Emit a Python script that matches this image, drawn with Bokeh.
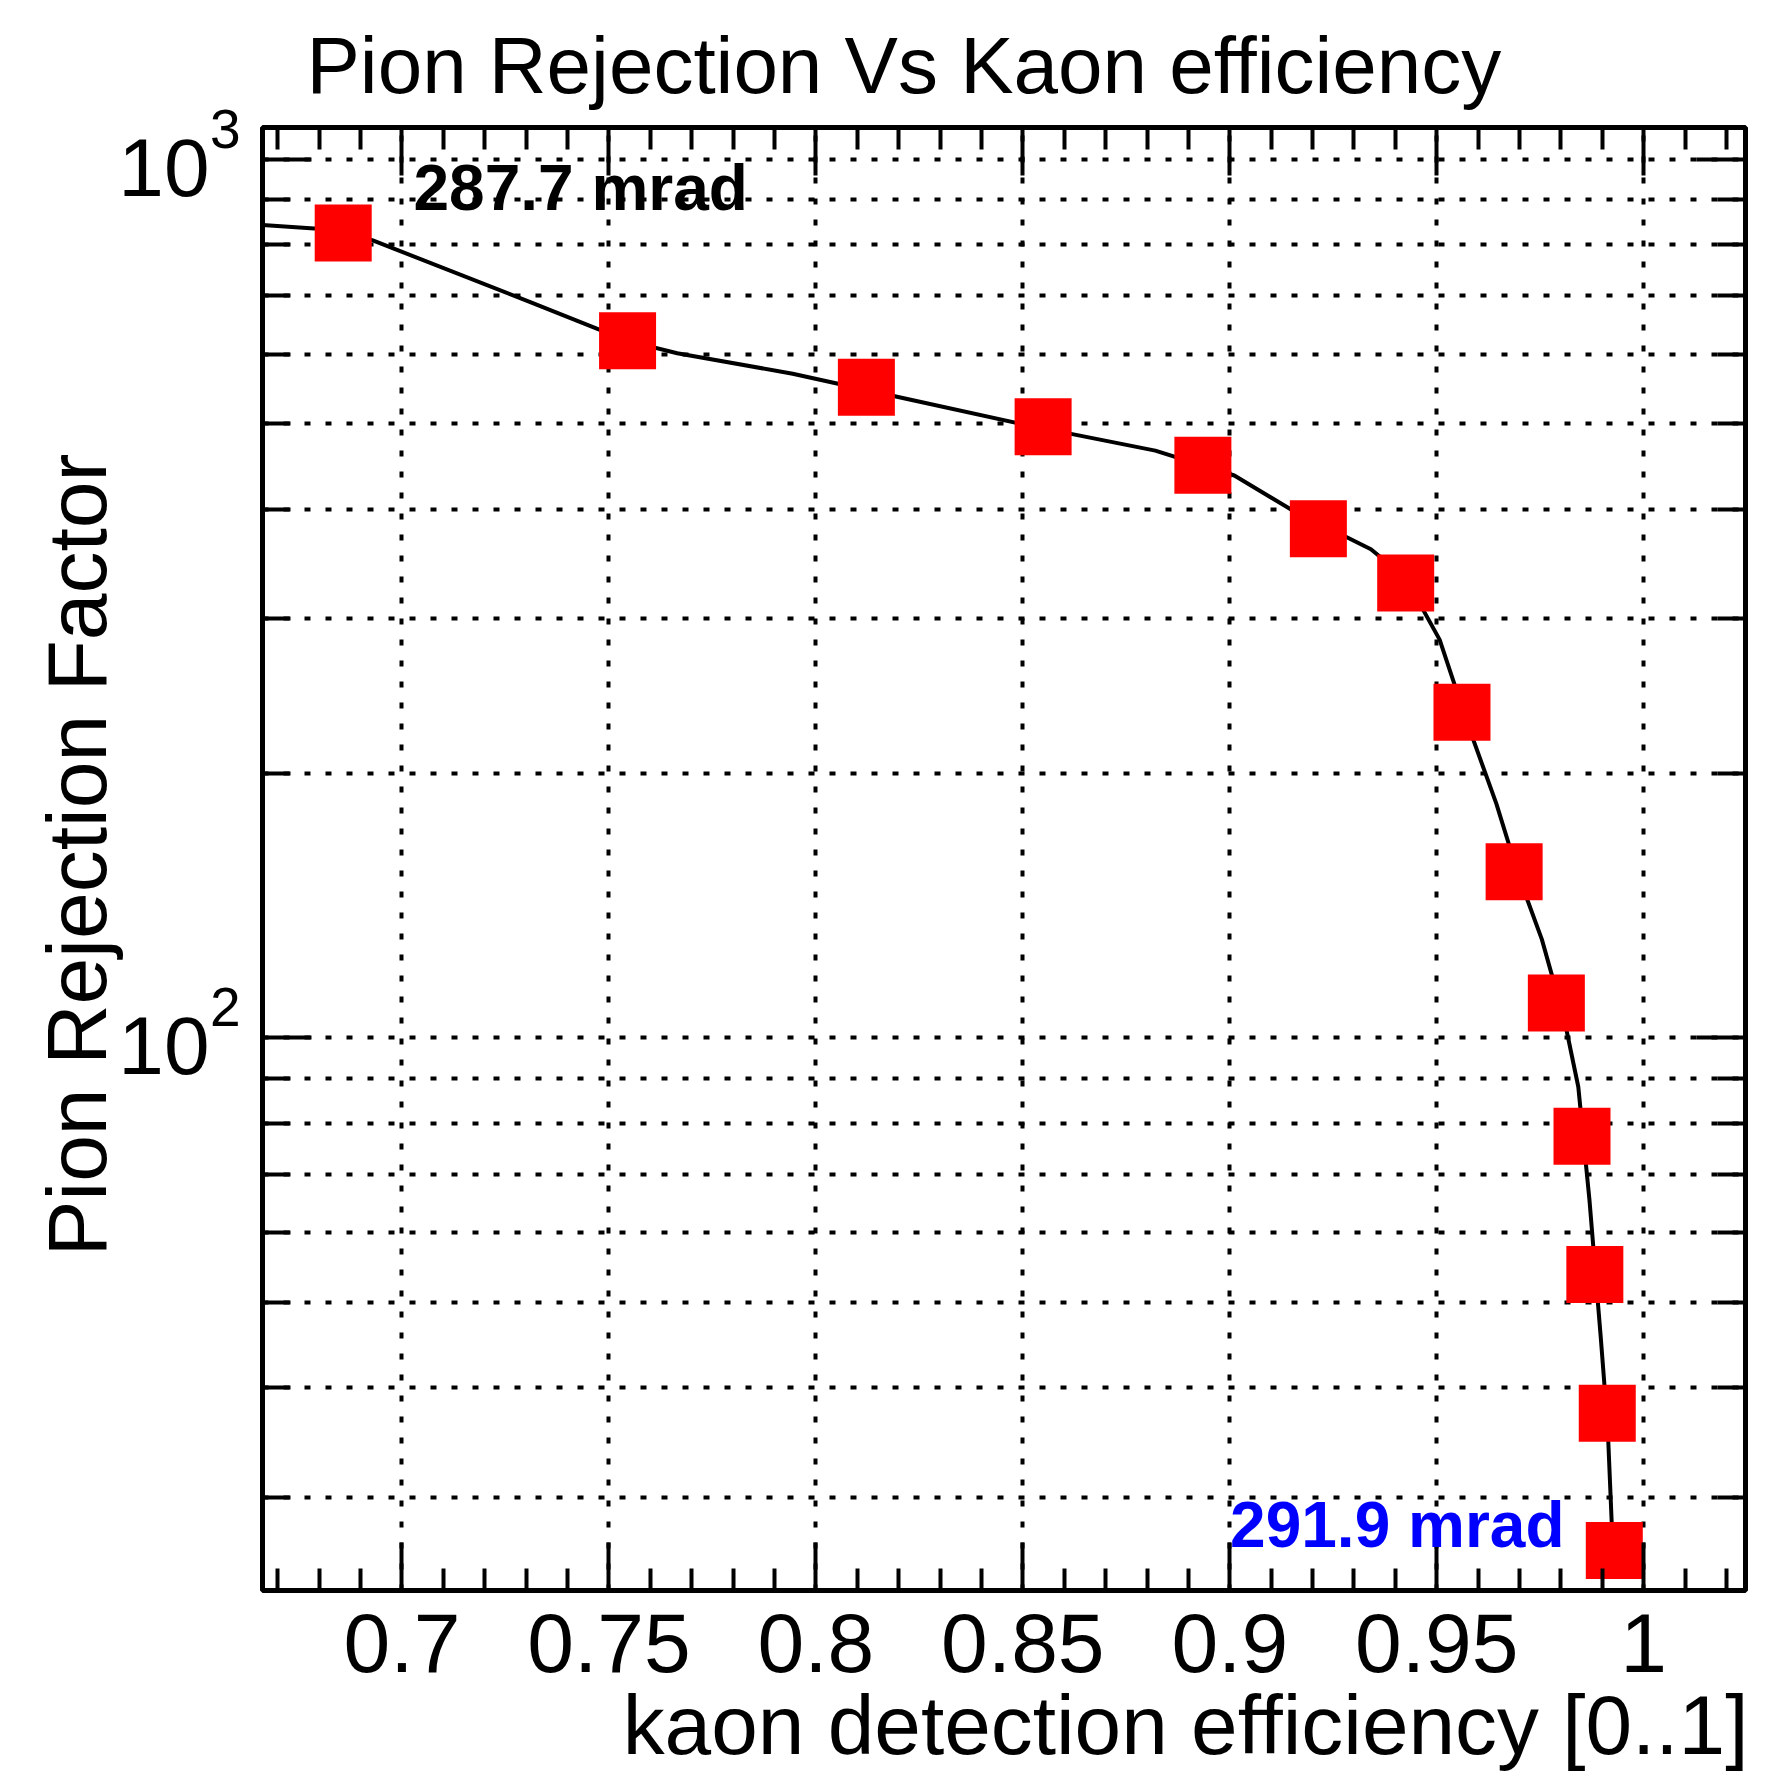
import math
from bokeh.plotting import figure
from bokeh.models import (Range1d, FixedTicker, LinearAxis, LogAxis, Label, Title,
                          LogScale)
from bokeh.embed import file_html
from bokeh.resources import INLINE

# ---- data ----
kaon_eff = [0.6858, 0.7545, 0.8122, 0.8549, 0.8935, 0.9214, 0.9425,
            0.9561, 0.9687, 0.9789, 0.9851, 0.9882, 0.9912, 0.9929]
pion_rej = [824.8, 621.7, 550.4, 496.2, 448.6, 379.8, 329.6,
            234.9, 154.6, 109.6, 77.3, 53.8, 37.4, 26.1]

curve_eff = [0.6663, 0.6788, 0.6928, 0.7310, 0.7545, 0.7665, 0.7944, 0.8218,
             0.8492, 0.8820, 0.9011, 0.9148, 0.9341, 0.9424, 0.9507, 0.9575,
             0.9644, 0.9699, 0.9754, 0.9808, 0.9842, 0.9869, 0.9896, 0.9913, 0.9925]
curve_rej = [842.0, 834.8, 809.5, 688.0, 621.7, 601.9, 570.4, 534.2,
             500.4, 466.2, 436.8, 399.6, 360.1, 334.4, 284.1, 227.5,
             184.8, 152.4, 129.5, 105.1, 88.0, 65.4, 45.8, 36.1, 26.5]

x_ticks = [0.7, 0.75, 0.8, 0.85, 0.9, 0.95, 1.0]
x_tick_labels = ["0.7", "0.75", "0.8", "0.85", "0.9", "0.95", "1"]
x_minor_ticks = [0.67, 0.68, 0.69, 0.71, 0.72, 0.73, 0.74, 0.76, 0.77, 0.78, 0.79,
                 0.81, 0.82, 0.83, 0.84, 0.86, 0.87, 0.88, 0.89, 0.91, 0.92, 0.93,
                 0.94, 0.96, 0.97, 0.98, 0.99, 1.01, 1.02]
y_ticks = [100, 1000]
y_tick_base = ["10", "10"]
y_tick_exps = ["2", "3"]
y_minor_ticks = [20, 30, 40, 50, 60, 70, 80, 90, 200, 300, 400, 500, 600, 700, 800, 900]

title_text = "Pion Rejection Vs Kaon efficiency"
x_title = "kaon detection efficiency [0..1]"
y_title = "Pion Rejection Factor"
note_top = "287.7 mrad"
note_bottom = "291.9 mrad"

X0, X1 = 0.6663, 1.0246
Y0, Y1 = 23.5, 1087.5

FONT = "Liberation Sans"

p = figure(width=1772, height=1775, x_range=Range1d(X0, X1), y_range=Range1d(Y0, Y1),
           y_axis_type="log", output_backend="svg", toolbar_location=None,
           min_border_left=262, min_border_right=27, min_border_top=127,
           min_border_bottom=185, background_fill_color="white",
           border_fill_color="white")
p.outline_line_color = "black"
p.outline_line_width = 5

# shifted copies of the y range, used only to place the "10" and exponent labels
SUP_SHIFT = 10 ** (30.8 / 879.0)
TEN_SHIFT = 10 ** (-7.7 / 879.0)
p.extra_y_ranges = {"sup": Range1d(Y0 / SUP_SHIFT, Y1 / SUP_SHIFT),
                    "ten": Range1d(Y0 / TEN_SHIFT, Y1 / TEN_SHIFT)}
p.extra_y_scales = {"sup": LogScale(), "ten": LogScale()}

xt = FixedTicker(ticks=x_ticks, minor_ticks=x_minor_ticks)
yt = FixedTicker(ticks=y_ticks, minor_ticks=y_minor_ticks)

def style_ticks(ax, major_len, minor_len):
    ax.axis_line_color = None
    ax.major_tick_in = major_len
    ax.major_tick_out = 0
    ax.minor_tick_in = minor_len
    ax.minor_tick_out = 0
    ax.major_tick_line_width = 4
    ax.minor_tick_line_width = 4
    ax.major_tick_line_color = "black"
    ax.minor_tick_line_color = "black"

def no_ticks(ax):
    ax.axis_line_color = None
    ax.major_tick_line_color = None
    ax.minor_tick_line_color = None
    ax.major_tick_in = 0
    ax.major_tick_out = 0
    ax.minor_tick_in = 0
    ax.minor_tick_out = 0

bottom = p.xaxis[0]
bottom.ticker = xt
style_ticks(bottom, 48, 22)
bottom.major_label_overrides = {t: l for t, l in zip(x_ticks, x_tick_labels)}
bottom.major_label_text_font = FONT
bottom.major_label_text_font_size = "84px"
bottom.major_label_text_color = "black"
bottom.major_label_standoff = 23

left = p.yaxis[0]
left.ticker = yt
style_ticks(left, 49, 28)
left.major_label_overrides = {t: "" for t in y_ticks}
left.major_label_standoff = 0

sup_axis = LogAxis(y_range_name="sup", ticker=FixedTicker(ticks=y_ticks, minor_ticks=[]))
no_ticks(sup_axis)
sup_axis.major_label_overrides = {t: e for t, e in zip(y_ticks, y_tick_exps)}
sup_axis.major_label_text_font = FONT
sup_axis.major_label_text_font_size = "55px"
sup_axis.major_label_text_color = "black"
sup_axis.major_label_standoff = 22
p.add_layout(sup_axis, "left")

ten_axis = LogAxis(y_range_name="ten", ticker=FixedTicker(ticks=y_ticks, minor_ticks=[]))
no_ticks(ten_axis)
ten_axis.major_label_overrides = {t: b for t, b in zip(y_ticks, y_tick_base)}
ten_axis.major_label_text_font = FONT
ten_axis.major_label_text_font_size = "82px"
ten_axis.major_label_text_color = "black"
ten_axis.major_label_standoff = -3
p.add_layout(ten_axis, "left")

p.add_layout(Title(text=y_title, align="right", offset=326, standoff=-17,
                   text_font=FONT, text_font_size="84px", text_font_style="normal",
                   text_color="black"), "left")

top_ax = LinearAxis(ticker=xt)
style_ticks(top_ax, 48, 22)
top_ax.major_label_overrides = {t: "" for t in x_ticks}
top_ax.major_label_standoff = 0
p.add_layout(top_ax, "above")

right_ax = LogAxis(ticker=yt)
style_ticks(right_ax, 49, 28)
right_ax.major_label_overrides = {t: "" for t in y_ticks}
right_ax.major_label_standoff = 0
p.add_layout(right_ax, "right")

p.title.text = title_text
p.title.text_font = FONT
p.title.text_font_size = "80px"
p.title.text_font_style = "normal"
p.title.text_color = "black"
p.title.align = "left"
p.title.offset = 44
p.title.standoff = 36

p.add_layout(Title(text=x_title, align="right", offset=-3, standoff=2,
                   text_font=FONT, text_font_size="83.8px", text_font_style="normal",
                   text_color="black"), "below")

# grid
p.xgrid.ticker = FixedTicker(ticks=x_ticks)
p.ygrid.ticker = yt
for g in (p.xgrid[0], p.ygrid[0]):
    g.grid_line_color = "black"
    g.grid_line_width = 4
    g.grid_line_dash = "6 15"
p.ygrid.minor_grid_line_color = "black"
p.ygrid.minor_grid_line_width = 4
p.ygrid.minor_grid_line_dash = "6 15"

# data
p.line(curve_eff, curve_rej, line_color="black", line_width=4, line_join="round")
p.scatter(kaon_eff, pion_rej, marker="square", size=57, fill_color="#ff0000",
          line_color=None)

# annotations inside the frame
p.add_layout(Label(x=X0, y=Y1, x_offset=151, y_offset=-60, text=note_top,
                   text_font=FONT, text_font_size="64px", text_font_style="bold",
                   text_align="left", text_baseline="alphabetic", text_color="black"))
p.add_layout(Label(x=X1, y=Y0, x_offset=-181, y_offset=66, text=note_bottom,
                   text_font=FONT, text_font_size="64px", text_font_style="bold",
                   text_align="right", text_baseline="alphabetic", text_color="#0000ff"))

open("out.html", "w").write(file_html(p, INLINE))
